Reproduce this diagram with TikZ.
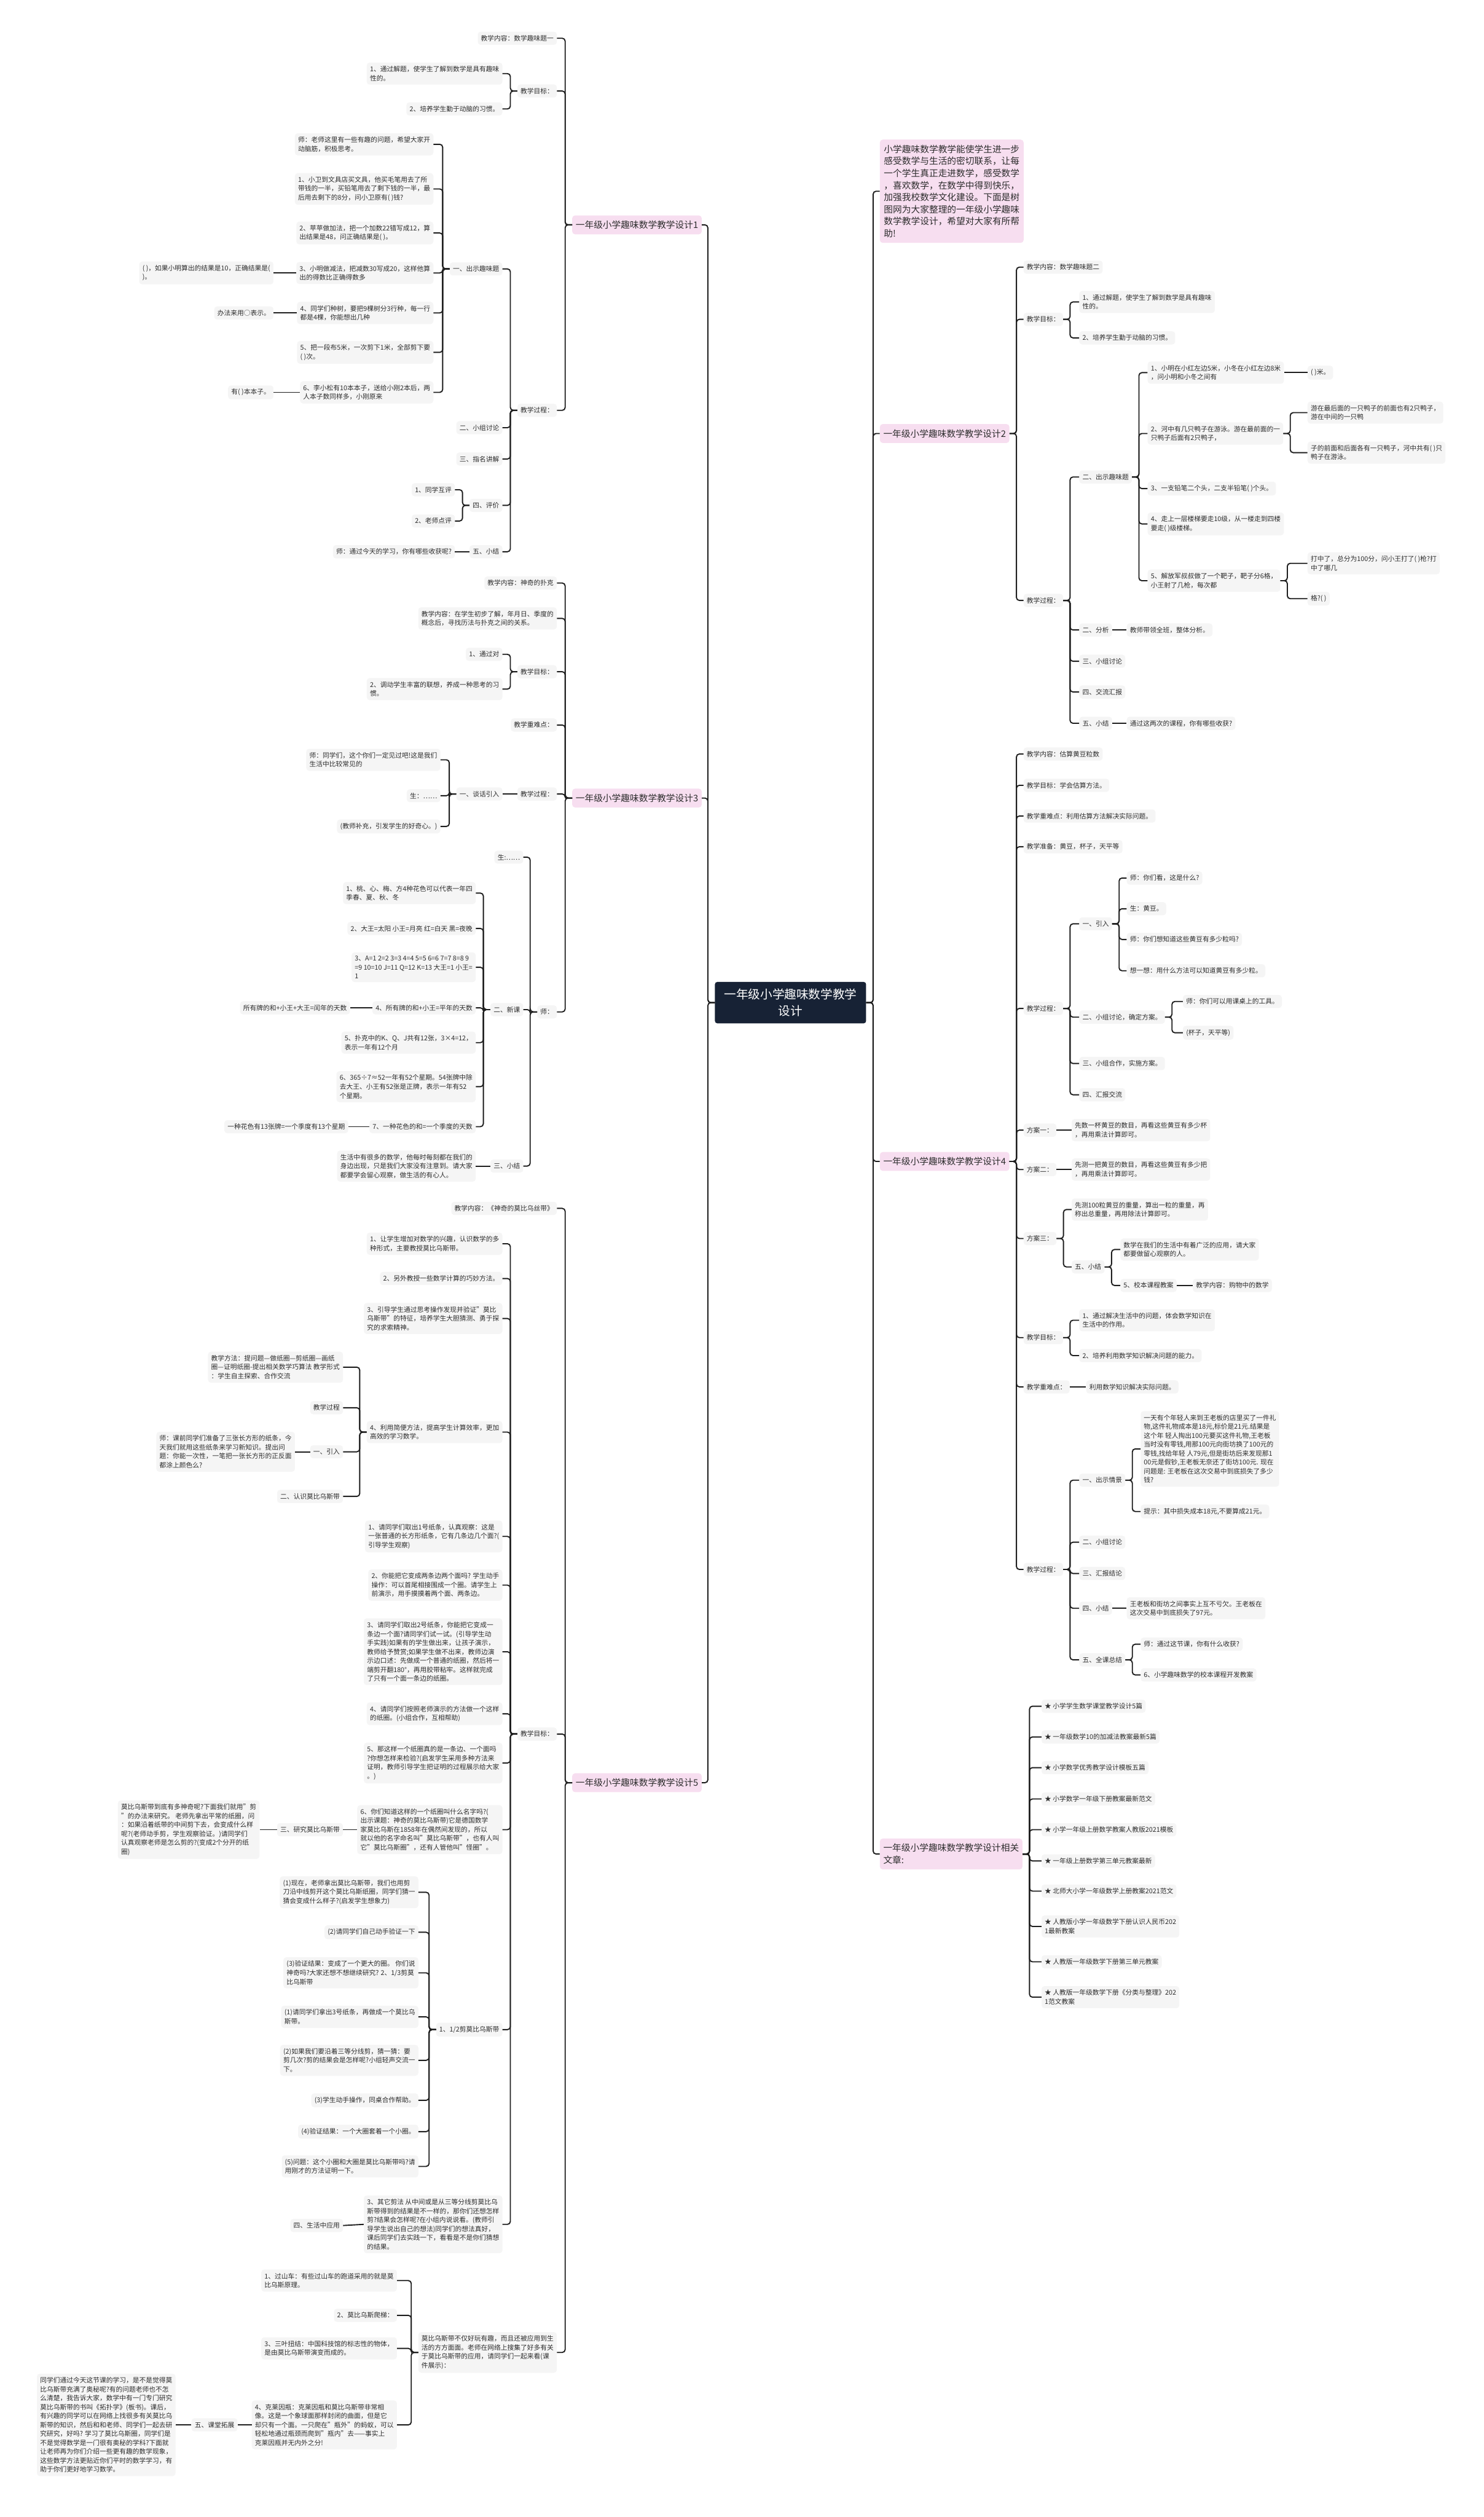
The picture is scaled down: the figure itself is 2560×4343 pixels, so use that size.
\documentclass[tikz,border=0pt]{standalone}
\usepackage{fontspec}
\setmainfont{Noto Sans CJK SC}
\definecolor{boxgray}{RGB}{245,245,245}
\definecolor{topicpink}{RGB}{247,222,240}
\definecolor{rootblue}{RGB}{23,34,53}
\definecolor{txt}{RGB}{45,45,45}
\definecolor{linec}{RGB}{30,30,30}
\newcommand{\nodefont}{\fontsize{11.4}{15.4}\selectfont}
\newcommand{\topicfont}{\fontsize{15.6}{20.8}\selectfont}
\newcommand{\rootfont}{\fontsize{20.8}{28}\selectfont}

\begin{document}
\begin{tikzpicture}[
        x=1pt, y=-1pt,
        box/.style={fill=boxgray, text=txt, rounded corners=5pt, inner xsep=5.5pt, inner ysep=6pt, align=left, font=\nodefont},
        lbox/.style={box, anchor=east},
        rbox/.style={box, anchor=west},
        topic/.style={fill=topicpink, text=txt, rounded corners=5pt, inner xsep=6pt, inner ysep=9pt, align=left, font=\topicfont},
        rootnode/.style={fill=rootblue, text=white, rounded corners=4pt, inner xsep=16pt, inner ysep=12pt, align=center, font=\rootfont},
        link/.style={draw=linec, line width=2pt, rounded corners=5pt},
        ltree/.style={link, to path={-- ++(-12,0) |- (\tikztotarget)}},
        rtree/.style={link, to path={-- ++(12,0) |- (\tikztotarget)}},
    ]
    \path[fill=white] (0,0) rectangle (2560,4343);
    \useasboundingbox (0,0) rectangle (2560,4343);

    % Draw the central node and the topics
    \node[rootnode] (R) at (1364,1730) {一年级小学趣味数学教学\\设计};
    \node[topic, anchor=east] (D1) at (1211,388) {一年级小学趣味数学教学设计1};
    \node[topic, anchor=east] (D3) at (1211,1377) {一年级小学趣味数学教学设计3};
    \node[topic, anchor=east] (D5) at (1211,3076) {一年级小学趣味数学教学设计5};
    \node[topic, anchor=west, inner xsep=7pt] (N0) at (1518,330) {小学趣味数学教学能使学生进一步\\感受数学与生活的密切联系，让每\\一个学生真正走进数学，感受数学\\，喜欢数学，在数学中得到快乐，\\加强我校数学文化建设。下面是树\\图网为大家整理的一年级小学趣味\\数学教学设计，希望对大家有所帮\\助!};
    \node[topic, anchor=west] (D2) at (1518,748) {一年级小学趣味数学教学设计2};
    \node[topic, anchor=west] (D4) at (1518,2004) {一年级小学趣味数学教学设计4};
    \node[topic, anchor=west] (D6) at (1518,3199) {一年级小学趣味数学教学设计相关\\文章:};

    \path (R.west) edge[ltree] (D1.east) edge[ltree] (D3.east) edge[ltree] (D5.east);
    \path (R.east) edge[rtree] (N0.west) edge[rtree] (D2.west) edge[rtree] (D4.west) edge[rtree] (D6.west);

    % Design 1
    \node[lbox] (D1-1) at (961,66) {教学内容：数学趣味题一};
    \node[lbox] (D1-2) at (961,157) {教学目标：};
    \node[lbox] (D1-3) at (961,708) {教学过程：};
    \path (D1.west) edge[ltree] (D1-1.east) edge[ltree] (D1-2.east) edge[ltree] (D1-3.east);

    \node[lbox] (D1-2-1) at (867,127) {1、通过解题，使学生了解到数学是具有趣味\\性的。};
    \node[lbox] (D1-2-2) at (867,188) {2、培养学生勤于动脑的习惯。};
    \path (D1-2.west) edge[ltree] (D1-2-1.east) edge[ltree] (D1-2-2.east);

    \node[lbox] (D1-3-1) at (867,464) {一、出示趣味题};
    \node[lbox] (D1-3-2) at (867,738) {二、小组讨论};
    \node[lbox] (D1-3-3) at (867,792) {三、指名讲解};
    \node[lbox] (D1-3-4) at (867,872) {四、评价};
    \node[lbox] (D1-3-5) at (867,952) {五、小结};
    \foreach \c in {1,...,5}
        \path (D1-3.west) edge[ltree] (D1-3-\c.east);

    \node[lbox] (Q-0) at (748,249) {师：老师这里有一些有趣的问题，希望大家开\\动脑筋，积极思考。};
    \node[lbox] (Q-1) at (748,326) {1、小卫到文具店买文具，他买毛笔用去了所\\带钱的一半，买铅笔用去了剩下钱的一半，最\\后用去剩下的8分，问小卫原有( )钱?};
    \node[lbox] (Q-2) at (748,402) {2、苹苹做加法，把一个加数22错写成12，算\\出结果是48，问正确结果是( )。};
    \node[lbox] (Q-3) at (748,471) {3、小明做减法，把减数30写成20，这样他算\\出的得数比正确得数多};
    \node[lbox] (Q-4) at (748,540) {4、同学们种树，要把9棵树分3行种，每一行\\都是4棵，你能想出几种};
    \node[lbox] (Q-5) at (748,608) {5、把一段布5米，一次剪下1米，全部剪下要\\( )次。};
    \node[lbox] (Q-6) at (748,677) {6、李小松有10本本子，送给小刚2本后，两\\人本子数同样多，小刚原来};
    \foreach \c in {0,...,6}
        \path (D1-3-1.west) edge[ltree] (Q-\c.east);
    \node[lbox] (Q-3a) at (472,471) {( )，如果小明算出的结果是10，正确结果是(\\)。};
    \node[lbox] (Q-4a) at (472,540) {办法来用○表示。};
    \node[lbox] (Q-6a) at (472,677) {有( )本本子。};
    \foreach \c in {3,4,6}
        \path (Q-\c.west) edge[link] (Q-\c a.east);

    \node[lbox] (D1-3-4-1) at (785,845) {1、同学互评};
    \node[lbox] (D1-3-4-2) at (785,899) {2、老师点评};
    \node[lbox] (D1-3-5-1) at (785,952) {师：通过今天的学习，你有哪些收获呢?};
    \path (D1-3-4.west) edge[ltree] (D1-3-4-1.east) edge[ltree] (D1-3-4-2.east);
    \path (D1-3-5.west) edge[link] (D1-3-5-1.east);

    % Design 3
    \node[lbox] (D3-1) at (961,1006) {教学内容：神奇的扑克};
    \node[lbox] (D3-2) at (961,1067) {教学内容：在学生初步了解，年月日、季度的\\概念后，寻找历法与扑克之间的关系。};
    \node[lbox] (D3-3) at (961,1159) {教学目标：};
    \node[lbox] (D3-4) at (961,1251) {教学重难点：};
    \node[lbox] (D3-5) at (961,1370) {教学过程：};
    \node[lbox] (D3-6) at (961,1746) {师：};
    \foreach \c in {1,...,6}
        \path (D3.west) edge[ltree] (D3-\c.east);

    \node[lbox] (D3-3-1) at (867,1129) {1、通过对};
    \node[lbox] (D3-3-2) at (867,1189) {2、调动学生丰富的联想，养成一种思考的习\\惯。};
    \path (D3-3.west) edge[ltree] (D3-3-1.east) edge[ltree] (D3-3-2.east);

    \node[lbox] (D3-5-1) at (867,1370) {一、谈话引入};
    \path (D3-5.west) edge[link] (D3-5-1.east);
    \node[lbox] (D3-5-1-1) at (760,1311) {师：同学们，这个你们一定见过吧!这是我们\\生活中比较常见的};
    \node[lbox] (D3-5-1-2) at (760,1373) {生：……};
    \node[lbox] (D3-5-1-3) at (760,1426) {(教师补充，引发学生的好奇心。)};
    \foreach \c in {1,2,3}
        \path (D3-5-1.west) edge[ltree] (D3-5-1-\c.east);

    \node[lbox] (D3-6-1) at (903,1479) {生:……};
    \node[lbox] (D3-6-2) at (903,1742) {二、新课};
    \node[lbox] (D3-6-3) at (903,2012) {三、小结};
    \foreach \c in {1,2,3}
        \path (D3-6.west) edge[ltree] (D3-6-\c.east);

    \node[lbox] (P-1) at (821,1541) {1、桃、心、梅、方4种花色可以代表一年四\\季春、夏、秋、冬};
    \node[lbox] (P-2) at (821,1602) {2、大王=太阳 小王=月亮 红=白天 黑=夜晚};
    \node[lbox] (P-3) at (821,1669) {3、A=1 2=2 3=3 4=4 5=5 6=6 7=7 8=8 9\\=9 10=10 J=11 Q=12 K=13 大王=1 小王=\\1};
    \node[lbox] (P-4) at (821,1739) {4、所有牌的和+小王=平年的天数};
    \node[lbox] (P-5) at (821,1799) {5、扑克中的K、Q、J共有12张，3×4=12，\\表示一年有12个月};
    \node[lbox] (P-6) at (821,1875) {6、365÷7≈52一年有52个星期。54张牌中除\\去大王、小王有52张是正牌，表示一年有52\\个星期。};
    \node[lbox] (P-7) at (821,1944) {7、一种花色的和=一个季度的天数};
    \foreach \c in {1,...,7}
        \path (D3-6-2.west) edge[ltree] (P-\c.east);
    \node[lbox] (P-4a) at (604,1739) {所有牌的和+小王+大王=闰年的天数};
    \node[lbox] (P-7a) at (601,1944) {一种花色有13张牌=一个季度有13个星期};
    \path (P-4.west) edge[link] (P-4a.east);
    \path (P-7.west) edge[link] (P-7a.east);
    \node[lbox] (D3-6-3-1) at (821,2012) {生活中有很多的数学，他每时每刻都在我们的\\身边出现，只是我们大家没有注意到。请大家\\都要学会留心观察，做生活的有心人。};
    \path (D3-6-3.west) edge[link] (D3-6-3-1.east);

    % Design 5
    \node[lbox] (D5-1) at (961,2085) {教学内容：《神奇的莫比乌丝带》};
    \node[lbox] (D5-2) at (961,2992) {教学目标：};
    \node[lbox] (D5-3) at (961,4059) {莫比乌斯带不仅好玩有趣，而且还被应用到生\\活的方方面面。老师在网络上搜集了好多有关\\于莫比乌斯带的应用，请同学们一起来看(课\\件展示)：};
    \foreach \c in {1,2,3}
        \path (D5.west) edge[ltree] (D5-\c.east);

    \node[lbox] (M-1) at (867,2146) {1、让学生增加对数学的兴趣，认识数学的多\\种形式，主要教授莫比乌斯带。};
    \node[lbox] (M-2) at (867,2206) {2、另外教授一些数学计算的巧妙方法。};
    \node[lbox] (M-3) at (867,2275) {3、引导学生通过思考操作发现并验证"莫比\\乌斯带"的特征，培养学生大胆猜测、勇于探\\究的求索精神。};
    \node[lbox] (M-4) at (867,2471) {4、利用简便方法，提高学生计算效率，更加\\高效的学习数学。};
    \node[lbox] (M-5) at (867,2651) {1、请同学们取出1号纸条，认真观察：这是\\一张普通的长方形纸条，它有几条边几个面?(\\引导学生观察)};
    \node[lbox] (M-6) at (867,2735) {2、你能把它变成两条边两个面吗? 学生动手\\操作：可以首尾相接围成一个圈。请学生上\\前演示，用手摸摸着两个面、两条边。};
    \node[lbox] (M-7) at (867,2850) {3、请同学们取出2号纸条，你能把它变成一\\条边一个面?请同学们试一试。(引导学生动\\手实践)如果有的学生做出来，让孩子演示，\\教师给予赞赏;如果学生做不出来，教师边演\\示边口述：先做成一个普通的纸圈，然后将一\\端剪开翻180°，再用胶带粘牢。这样就完成\\了只有一个面一条边的纸圈。};
    \node[lbox] (M-8) at (867,2957) {4、请同学们按照老师演示的方法做一个这样\\的纸圈。(小组合作，互相帮助)};
    \node[lbox] (M-9) at (867,3042) {5、那这样一个纸圈真的是一条边、一个面吗\\?你想怎样来检验?(启发学生采用多种方法来\\证明，教师引导学生把证明的过程展示给大家\\。)};
    \node[lbox] (M-10) at (867,3157) {6、你们知道这样的一个纸圈叫什么名字吗?(\\出示课题：神奇的莫比乌斯带)它是德国数学\\家莫比乌斯在1858年在偶然间发现的，所以\\就以他的名字命名叫"莫比乌斯带"，也有人叫\\它"莫比乌斯圈"，还有人管他叫"怪圈"。};
    \node[lbox] (M-11) at (867,3502) {1、1/2剪莫比乌斯带};
    \node[lbox] (M-12) at (867,3838) {3、其它剪法 从中间或是从三等分线剪莫比乌\\斯带得到的结果是不一样的，那你们还想怎样\\剪?结果会怎样呢?在小组内说说看。(教师引\\导学生说出自己的想法)同学们的想法真好，\\课后同学们去实践一下，看看是不是你们猜想\\的结果。};
    \foreach \c in {1,...,12}
        \path (D5-2.west) edge[ltree] (M-\c.east);

    \node[lbox] (M-4-1) at (592,2359) {教学方法：提问题—做纸圈—剪纸圈—画纸\\圈—证明纸圈-提出相关数学巧算法 教学形式\\：学生自主探索、合作交流};
    \node[lbox] (M-4-2) at (592,2429) {教学过程};
    \node[lbox] (M-4-3) at (592,2505) {一、引入};
    \node[lbox] (M-4-4) at (592,2582) {二、认识莫比乌斯带};
    \foreach \c in {1,...,4}
        \path (M-4.west) edge[ltree] (M-4-\c.east);
    \node[lbox] (M-4-3-1) at (509,2505) {师：课前同学们准备了三张长方形的纸条，今\\天我们就用这些纸条来学习新知识。提出问\\题：你能一次性，一笔把一张长方形的正反面\\都涂上颜色么?};
    \path (M-4-3.west) edge[link] (M-4-3-1.east);

    \node[lbox] (M-10-1) at (592,3157) {三、研究莫比乌斯带};
    \node[lbox] (M-10-1-1) at (448,3157) {莫比乌斯带到底有多神奇呢?下面我们就用"剪\\"的办法来研究。 老师先拿出平常的纸圈，问\\：如果沿着纸带的中间剪下去，会变成什么样\\呢?(老师动手剪，学生观察验证。)请同学们\\认真观察老师是怎么剪的?(变成2个分开的纸\\圈)};
    \path (M-10.west) edge[link] (M-10-1.east);
    \path (M-10-1.west) edge[link] (M-10-1-1.east);

    \node[lbox] (C-1) at (722,3265) {(1)现在，老师拿出莫比乌斯带，我们也用剪\\刀沿中线剪开这个莫比乌斯纸圈，同学们猜一\\猜会变成什么样子?(启发学生想象力)};
    \node[lbox] (C-2) at (722,3334) {(2)请同学们自己动手验证一下};
    \node[lbox] (C-3) at (722,3404) {(3)验证结果：变成了一个更大的圈。 你们说\\神奇吗?大家还想不想继续研究? 2、1/3剪莫\\比乌斯带};
    \node[lbox] (C-4) at (722,3480) {(1)请同学们拿出3号纸条，再做成一个莫比乌\\斯带。};
    \node[lbox] (C-5) at (722,3555) {(2)如果我们要沿着三等分线剪，猜一猜：要\\剪几次?剪的结果会是怎样呢?小组轻声交流一\\下。};
    \node[lbox] (C-6) at (722,3624) {(3)学生动手操作，同桌合作帮助。};
    \node[lbox] (C-7) at (722,3678) {(4)验证结果：一个大圈套着一个小圈。};
    \node[lbox] (C-8) at (722,3738) {(5)问题：这个小圈和大圈是莫比乌斯带吗?请\\用刚才的方法证明一下。};
    \foreach \c in {1,...,8}
        \path (M-11.west) edge[ltree] (C-\c.east);

    \node[lbox] (M-12-1) at (592,3840) {四、生活中应用};
    \path (M-12.west) edge[link] (M-12-1.east);

    \node[lbox] (A-1) at (685,3935) {1、过山车：有些过山车的跑道采用的就是莫\\比乌斯原理。};
    \node[lbox] (A-2) at (685,3995) {2、莫比乌斯爬梯：};
    \node[lbox] (A-3) at (685,4052) {3、三叶扭结：中国科技馆的标志性的物体，\\是由莫比乌斯带演变而成的。};
    \node[lbox] (A-4) at (685,4184) {4、克莱因瓶：克莱因瓶和莫比乌斯带非常相\\像。这是一个象球面那样封闭的曲面，但是它\\却只有一个面。一只爬在"瓶外"的蚂蚁，可以\\轻松地通过瓶颈而爬到"瓶内"去——事实上\\克莱因瓶并无内外之分!};
    \foreach \c in {1,...,4}
        \path (D5-3.west) edge[ltree] (A-\c.east);
    \node[lbox] (A-4-1) at (410,4184) {五、课堂拓展};
    \node[lbox] (A-4-1-1) at (303,4184) {同学们通过今天这节课的学习，是不是觉得莫\\比乌斯带充满了奥秘呢?有的问题老师也不怎\\么清楚，我告诉大家，数学中有一门专门研究\\莫比乌斯带的书叫《拓扑学》(板书)。课后，\\有兴趣的同学可以在网络上找很多有关莫比乌\\斯带的知识，然后和和老师、同学们一起去研\\究研究，好吗? 学习了莫比乌斯圈，同学们是\\不是觉得数学是一门很有奥秘的学科?下面就\\让老师再为你们介绍一些更有趣的数学现象，\\这些数学方法更贴近你们平时的数学学习，有\\助于你们更好地学习数学。};
    \path (A-4.west) edge[link] (A-4-1.east);
    \path (A-4-1.west) edge[link] (A-4-1-1.east);

    % Design 2
    \node[rbox] (D2-1) at (1766,461) {教学内容：数学趣味题二};
    \node[rbox] (D2-2) at (1766,551) {教学目标：};
    \node[rbox] (D2-3) at (1766,1036) {教学过程：};
    \foreach \c in {1,2,3}
        \path (D2.east) edge[rtree] (D2-\c.west);

    \node[rbox] (D2-2-1) at (1862,521) {1、通过解题，使学生了解到数学是具有趣味\\性的。};
    \node[rbox] (D2-2-2) at (1862,583) {2、培养学生勤于动脑的习惯。};
    \path (D2-2.east) edge[rtree] (D2-2-1.west) edge[rtree] (D2-2-2.west);

    \node[rbox] (D2-3-1) at (1862,823) {二、出示趣味题};
    \node[rbox] (D2-3-2) at (1862,1087) {二、分析};
    \node[rbox] (D2-3-3) at (1862,1141) {三、小组讨论};
    \node[rbox] (D2-3-4) at (1862,1194) {四、交流汇报};
    \node[rbox] (D2-3-5) at (1862,1248) {五、小结};
    \foreach \c in {1,...,5}
        \path (D2-3.east) edge[rtree] (D2-3-\c.west);
    \node[rbox] (D2-3-2-1) at (1944,1087) {教师带领全班，整体分析。};
    \node[rbox] (D2-3-5-1) at (1944,1248) {通过这两次的课程，你有哪些收获?};
    \path (D2-3-2.east) edge[link] (D2-3-2-1.west);
    \path (D2-3-5.east) edge[link] (D2-3-5-1.west);

    \node[rbox] (T-1) at (1980,643) {1、小明在小红左边5米，小冬在小红左边8米\\，问小明和小冬之间有};
    \node[rbox] (T-2) at (1980,748) {2、河中有几只鸭子在游泳。游在最前面的一\\只鸭子后面有2只鸭子，};
    \node[rbox] (T-3) at (1980,843) {3、一支铅笔二个头，二支半铅笔( )个头。};
    \node[rbox] (T-4) at (1980,904) {4、走上一层楼梯要走10级，从一楼走到四楼\\要走( )级楼梯。};
    \node[rbox] (T-5) at (1980,1002) {5、解放军叔叔做了一个靶子，靶子分6格，\\小王射了几枪，每次都};
    \foreach \c in {1,...,5}
        \path (D2-3-1.east) edge[rtree] (T-\c.west);
    \node[rbox] (T-1a) at (2256,643) {( )米。};
    \path (T-1.east) edge[link] (T-1a.west);
    \node[rbox] (T-2a) at (2256,712) {游在最后面的一只鸭子的前面也有2只鸭子，\\游在中间的一只鸭};
    \node[rbox] (T-2b) at (2256,781) {子的前面和后面各有一只鸭子，河中共有( )只\\鸭子在游泳。};
    \path (T-2.east) edge[rtree] (T-2a.west) edge[rtree] (T-2b.west);
    \node[rbox] (T-5a) at (2256,972) {打中了，总分为100分，问小王打了( )枪?打\\中了哪几};
    \node[rbox] (T-5b) at (2256,1033) {格?( )};
    \path (T-5.east) edge[rtree] (T-5a.west) edge[rtree] (T-5b.west);

    % Design 4
    \node[rbox] (D4-1) at (1766,1301) {教学内容：估算黄豆粒数};
    \node[rbox] (D4-2) at (1766,1355) {教学目标：学会估算方法。};
    \node[rbox] (D4-3) at (1766,1408) {教学重难点：利用估算方法解决实际问题。};
    \node[rbox] (D4-4) at (1766,1461) {教学准备：黄豆，杯子，天平等};
    \node[rbox] (D4-5) at (1766,1740) {教学过程：};
    \node[rbox] (D4-6) at (1766,1950) {方案一：};
    \node[rbox] (D4-7) at (1766,2018) {方案二：};
    \node[rbox] (D4-8) at (1766,2137) {方案三：};
    \node[rbox] (D4-9) at (1766,2308) {教学目标：};
    \node[rbox] (D4-10) at (1766,2393) {教学重难点：};
    \node[rbox] (D4-11) at (1766,2708) {教学过程：};
    \foreach \c in {1,...,11}
        \path (D4.east) edge[rtree] (D4-\c.west);

    \node[rbox] (D4-5-1) at (1862,1594) {一、引入};
    \node[rbox] (D4-5-2) at (1862,1755) {二、小组讨论，确定方案。};
    \node[rbox] (D4-5-3) at (1862,1835) {三、小组合作，实施方案。};
    \node[rbox] (D4-5-4) at (1862,1889) {四、汇报交流};
    \foreach \c in {1,...,4}
        \path (D4-5.east) edge[rtree] (D4-5-\c.west);
    \node[rbox] (B-1) at (1944,1515) {师：你们看，这是什么?};
    \node[rbox] (B-2) at (1944,1568) {生：黄豆。};
    \node[rbox] (B-3) at (1944,1621) {师：你们想知道这些黄豆有多少粒吗?};
    \node[rbox] (B-4) at (1944,1675) {想一想：用什么方法可以知道黄豆有多少粒。};
    \foreach \c in {1,...,4}
        \path (D4-5-1.east) edge[rtree] (B-\c.west);
    \node[rbox] (B-5) at (2041,1728) {师：你们可以用课桌上的工具。};
    \node[rbox] (B-6) at (2041,1782) {(杯子，天平等)};
    \path (D4-5-2.east) edge[rtree] (B-5.west) edge[rtree] (B-6.west);

    \node[rbox] (D4-6-1) at (1849,1950) {先数一杯黄豆的数目，再看这些黄豆有多少杯\\，再用乘法计算即可。};
    \node[rbox] (D4-7-1) at (1849,2018) {先测一把黄豆的数目，再看这些黄豆有多少把\\，再用乘法计算即可。};
    \path (D4-6.east) edge[link] (D4-6-1.west);
    \path (D4-7.east) edge[link] (D4-7-1.west);
    \node[rbox] (D4-8-1) at (1849,2087) {先测100粒黄豆的重量，算出一粒的重量，再\\称出总重量，再用除法计算即可。};
    \node[rbox] (D4-8-2) at (1849,2186) {五、小结};
    \path (D4-8.east) edge[rtree] (D4-8-1.west) edge[rtree] (D4-8-2.west);
    \node[rbox] (D4-8-2-1) at (1933,2156) {数学在我们的生活中有着广泛的应用，请大家\\都要做留心观察的人。};
    \node[rbox] (D4-8-2-2) at (1933,2218) {5、校本课程教案};
    \path (D4-8-2.east) edge[rtree] (D4-8-2-1.west) edge[rtree] (D4-8-2-2.west);
    \node[rbox] (D4-8-2-3) at (2058,2218) {教学内容：购物中的数学};
    \path (D4-8-2-2.east) edge[link] (D4-8-2-3.west);

    \node[rbox] (D4-9-1) at (1862,2278) {1、通过解决生活中的问题，体会数学知识在\\生活中的作用。};
    \node[rbox] (D4-9-2) at (1862,2339) {2、培养利用数学知识解决问题的能力。};
    \path (D4-9.east) edge[rtree] (D4-9-1.west) edge[rtree] (D4-9-2.west);
    \node[rbox] (D4-10-1) at (1874,2393) {利用数学知识解决实际问题。};
    \path (D4-10.east) edge[link] (D4-10-1.west);

    \node[rbox] (D4-11-1) at (1862,2554) {一、出示情景};
    \node[rbox] (D4-11-2) at (1862,2661) {二、小组讨论};
    \node[rbox] (D4-11-3) at (1862,2715) {三、汇报结论};
    \node[rbox] (D4-11-4) at (1862,2775) {四、小结};
    \node[rbox] (D4-11-5) at (1862,2864) {五、全课总结};
    \foreach \c in {1,...,5}
        \path (D4-11.east) edge[rtree] (D4-11-\c.west);
    \node[rbox] (S-1) at (1968,2500) {一天有个年轻人来到王老板的店里买了一件礼\\物,这件礼物成本是18元,标价是21元.结果是\\这个年 轻人掏出100元要买这件礼物,王老板\\当时没有零钱,用那100元向街坊换了100元的\\零钱,找给年轻 人79元,但是街坊后来发现那1\\00元是假钞,王老板无奈还了街坊100元. 现在\\问题是: 王老板在这次交易中到底损失了多少\\钱?};
    \node[rbox] (S-2) at (1968,2608) {提示：其中损失成本18元,不要算成21元。};
    \path (D4-11-1.east) edge[rtree] (S-1.west) edge[rtree] (S-2.west);
    \node[rbox] (S-3) at (1944,2775) {王老板和街坊之间事实上互不亏欠。王老板在\\这次交易中到底损失了97元。};
    \path (D4-11-4.east) edge[link] (S-3.west);
    \node[rbox] (S-4) at (1968,2837) {师：通过这节课，你有什么收获?};
    \node[rbox] (S-5) at (1968,2890) {6、小学趣味数学的校本课程开发教案};
    \path (D4-11-5.east) edge[rtree] (S-4.west) edge[rtree] (S-5.west);

    % Related articles
    \foreach \n/\y/\t in {1/2944/{★ 小学学生数学课堂教学设计5篇},
                          2/2997/{★ 一年级数学10的加减法教案最新5篇},
                          3/3050/{★ 小学数学优秀教学设计模板五篇},
                          4/3104/{★ 小学数学一年级下册教案最新范文},
                          5/3157/{★ 小学一年级上册数学教案人教版2021模板},
                          6/3211/{★ 一年级上册数学第三单元教案最新},
                          7/3263/{★ 北师大小学一年级数学上册教案2021范文},
                          8/3324/{★ 人教版小学一年级数学下册认识人民币202\\1最新教案},
                          9/3385/{★ 人教版一年级数学下册第三单元教案},
                          10/3446/{★ 人教版一年级数学下册《分类与整理》202\\1范文教案}}
        \node[rbox] (D6-\n) at (1797,\y) {\t};
    \foreach \n in {1,...,10}
        \path (D6.east) edge[rtree] (D6-\n.west);
\end{tikzpicture}
\end{document}
